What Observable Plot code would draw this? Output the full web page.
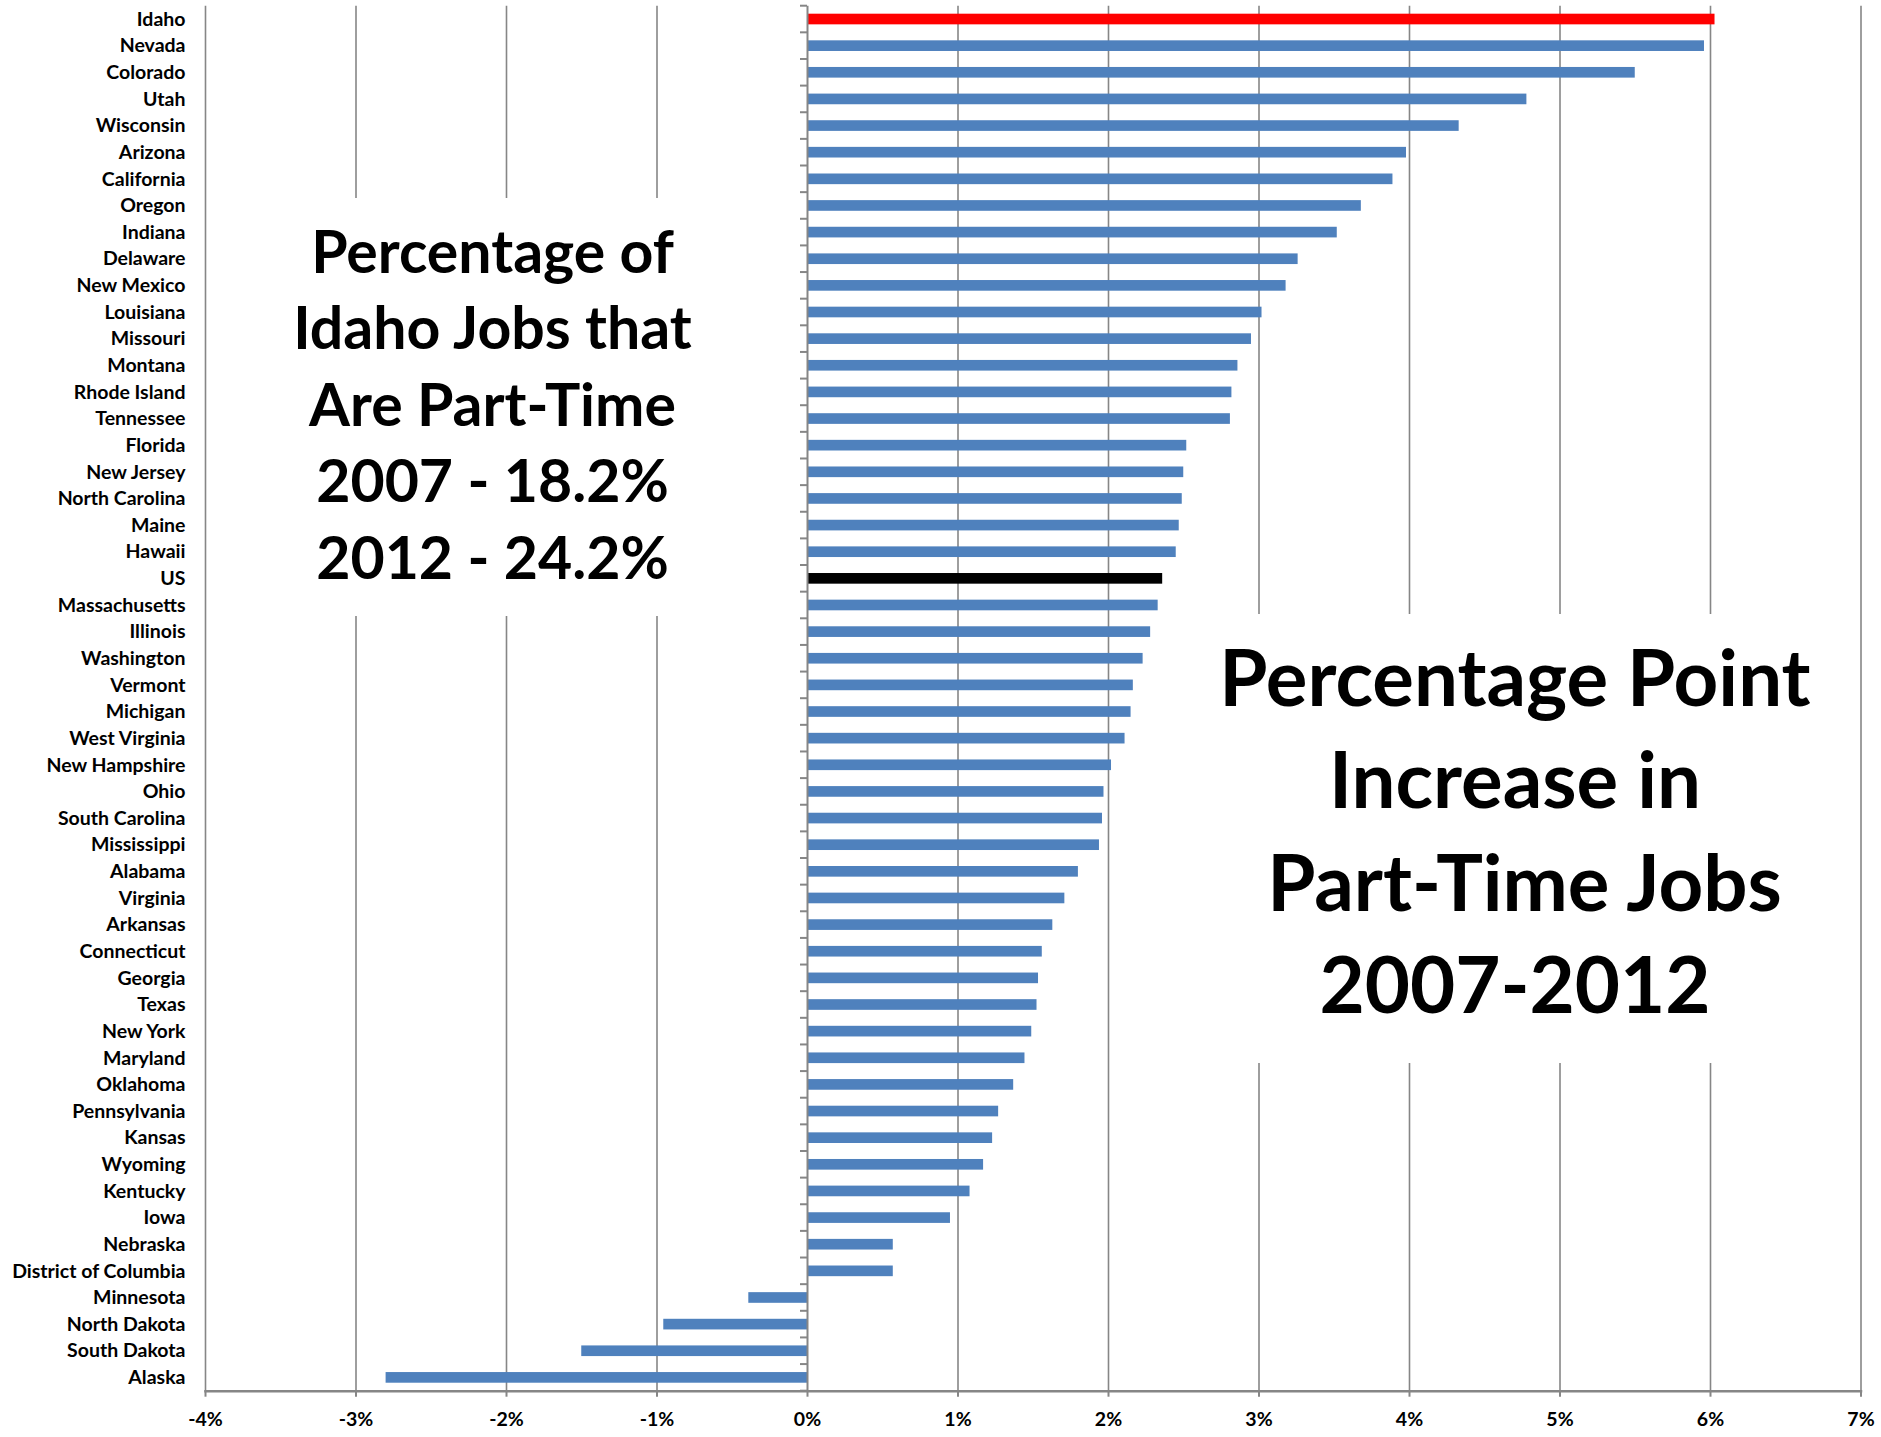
<!DOCTYPE html>
<html>
<head>
<meta charset="utf-8">
<script src="https://cdn.jsdelivr.net/npm/d3@7"></script>
<script src="https://cdn.jsdelivr.net/npm/@observablehq/plot@0.6"></script>
<style>
  html, body { margin: 0; padding: 0; background: #fff; }
  #wrap { position: relative; width: 1881px; height: 1437px; font-family: Lato, "Liberation Sans", sans-serif; font-weight: bold; }
  .box { position: absolute; background: #fff; text-align: center; color: #000; font-weight: bold; box-sizing: border-box; }
  .box div { white-space: pre; }
</style>
</head>
<body>
<div id="wrap"></div>
<script>
const states = ["Idaho","Nevada","Colorado","Utah","Wisconsin","Arizona","California","Oregon","Indiana","Delaware","New Mexico","Louisiana","Missouri","Montana","Rhode Island","Tennessee","Florida","New Jersey","North Carolina","Maine","Hawaii","US","Massachusetts","Illinois","Washington","Vermont","Michigan","West Virginia","New Hampshire","Ohio","South Carolina","Mississippi","Alabama","Virginia","Arkansas","Connecticut","Georgia","Texas","New York","Maryland","Oklahoma","Pennsylvania","Kansas","Wyoming","Kentucky","Iowa","Nebraska","District of Columbia","Minnesota","North Dakota","South Dakota","Alaska"];
const values = [6.03,5.96,5.50,4.78,4.33,3.98,3.89,3.68,3.52,3.26,3.18,3.02,2.95,2.86,2.82,2.81,2.52,2.50,2.49,2.47,2.45,2.36,2.33,2.28,2.23,2.165,2.15,2.11,2.02,1.97,1.96,1.94,1.80,1.71,1.63,1.56,1.535,1.525,1.49,1.445,1.37,1.27,1.23,1.17,1.08,0.95,0.57,0.57,-0.39,-0.955,-1.50,-2.80];
const xTicks = [-4,-3,-2,-1,0,1,2,3,4,5,6,7];
const highlightStates = {"Idaho": "#FF0000", "US": "#000000"};
const baseColor = "#4F81BD";
const leftNote = ["Percentage of", "Idaho Jobs that", "Are Part-Time", "2007 - 18.2%", "2012 - 24.2%"];
const rightNote = ["Percentage Point", "Increase in", " Part-Time Jobs", "2007-2012"];

const data = states.map((s, i) => ({state: s, value: values[i], color: highlightStates[s] || baseColor}));

const W = 1881, H = 1437, mt = 5.7, mb = 46.3, ml = 205, mr = 20.5;
const gray = "#868686";

const catTicks = (index, scales, vals, dims) => {
  const g = d3.create("svg:g");
  const x0 = scales.x(0);
  const n = states.length;
  const step = (dims.height - dims.marginTop - dims.marginBottom) / n;
  for (let k = 0; k <= n; k++) {
    const y = dims.marginTop + k * step;
    g.append("line").attr("x1", x0 - 7).attr("x2", x0).attr("y1", y).attr("y2", y)
      .attr("stroke", gray).attr("stroke-width", 2);
  }
  return g.node();
};

const chart = Plot.plot({
  width: W, height: H,
  marginTop: mt, marginBottom: mb, marginLeft: ml, marginRight: mr,
  style: {fontFamily: "Lato, 'Liberation Sans', sans-serif", fontWeight: "bold", color: "#000", background: "#fff", overflow: "visible"},
  x: {domain: [-4, 7]},
  y: {type: "band", domain: states, paddingInner: 0.6, paddingOuter: 0.3, align: 0.5},
  marks: [
    Plot.ruleX(xTicks.filter(d => d !== 0), {stroke: gray, strokeWidth: 1.6}),
    Plot.barX(data, {x: "value", y: "state", fill: "color"}),
    Plot.ruleX([0], {stroke: gray, strokeWidth: 2}),
    catTicks,
    Plot.frame({anchor: "bottom", stroke: gray, strokeWidth: 2.5}),
    Plot.axisX({ticks: xTicks, tickFormat: d => `${d}%`, tickSize: 6, tickPadding: 15, stroke: gray, strokeWidth: 2, fontSize: 19.5, fill: "#000", label: null}),
    Plot.axisY({tickSize: 0, tickPadding: 20, fontSize: 19.5, fill: "#000", label: null})
  ]
});
chart.style.display = "block";
const wrap = document.getElementById("wrap");
wrap.appendChild(chart);

function addBox(lines, left, top, width, height, fontSize, lineHeight, padTop) {
  const b = document.createElement("div");
  b.className = "box";
  Object.assign(b.style, {left: left + "px", top: top + "px", width: width + "px", height: height + "px",
    fontSize: fontSize + "px", lineHeight: lineHeight + "px", paddingTop: padTop + "px"});
  lines.forEach(t => { const d = document.createElement("div"); d.textContent = t; b.appendChild(d); });
  wrap.appendChild(b);
}
addBox(leftNote, 215, 198, 555, 418, 59, 76.5, 14.5);
addBox(rightNote, 1190, 614, 650, 449, 78, 102.4, 11);
</script>
</body>
</html>
